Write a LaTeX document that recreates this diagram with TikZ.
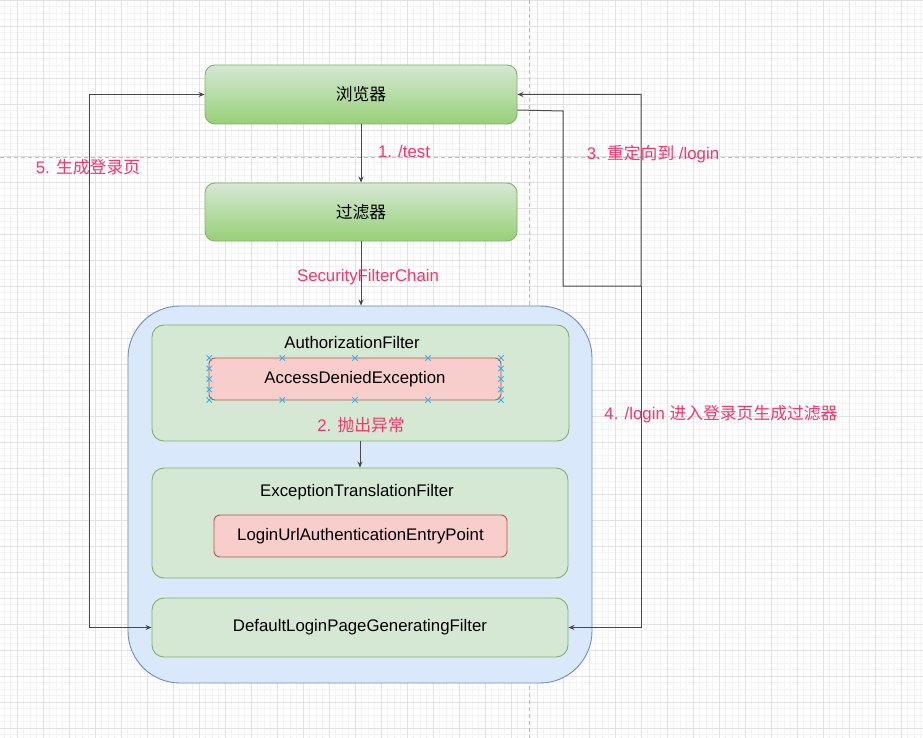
\documentclass[tikz,border=0pt]{standalone}
\usepackage{fontspec}
\setmainfont{Liberation Sans}
\newfontfamily\cjk{Noto Sans CJK SC}
\usetikzlibrary{arrows.meta}
\definecolor{gfill}{HTML}{D5E8D4}
\definecolor{gdark}{HTML}{97D077}
\definecolor{gstroke}{HTML}{82B366}
\definecolor{bfill}{HTML}{DAE8FC}
\definecolor{bstroke}{HTML}{6C8EBF}
\definecolor{rfill}{HTML}{F8CECC}
\definecolor{rstroke}{HTML}{B85450}
\definecolor{pinktxt}{HTML}{FF3366}
\definecolor{edgecol}{HTML}{4A4A4A}
\definecolor{handle}{HTML}{29B6F2}
\newcommand{\lowr}[1]{\raisebox{-1.3pt}{#1}}
\begin{document}
\begin{tikzpicture}[x=1pt,y=-1pt,
  font=\fontsize{16.8}{20}\selectfont,
  gbox/.style={draw=gstroke, fill=gfill, rounded corners=12pt, line width=0.9pt, inner sep=0pt},
  gradbox/.style={draw=gstroke, top color=gfill, bottom color=gdark, rounded corners=10pt, line width=0.9pt, inner sep=0pt},
  rbox/.style={draw=rstroke, fill=rfill, rounded corners=6pt, line width=0.9pt, inner sep=0pt},
  plain/.style={inner sep=0pt, text=black, yshift=-1.3pt},
  pinklbl/.style={inner sep=0pt, text=pinktxt, yshift=-1.3pt},
  conn/.style={draw=edgecol, line width=1pt, -{Stealth[length=6pt,width=5pt]}},
  minorgrid/.style={draw={rgb,255:red,244;green,244;blue,244}, line width=0.8pt},
  majorgrid/.style={draw={rgb,255:red,226;green,226;blue,226}, line width=0.9pt},
  pagebreak/.style={draw={rgb,255:red,190;green,190;blue,190}, line width=0.8pt, dash pattern=on 4pt off 3pt},
  handlemark/.style={draw=handle, line width=0.9pt}
]
\useasboundingbox (0,0) rectangle (923,738);
\fill[white] (0,0) rectangle (923,738);
% grid
\foreach \i in {0,...,141} \draw[minorgrid] ({4.3+6.5*\i},0) -- ({4.3+6.5*\i},738);
\foreach \i in {0,...,113} \draw[minorgrid] (0,{0.3+6.5*\i}) -- (923,{0.3+6.5*\i});
\foreach \i in {0,...,34} \draw[majorgrid] ({17.3+26*\i},0) -- ({17.3+26*\i},738);
\foreach \i in {0,...,28} \draw[majorgrid] (0,{0.3+26*\i}) -- (923,{0.3+26*\i});
% page break lines
\draw[pagebreak] (529,0) -- (529,738);
\draw[pagebreak] (0,157) -- (923,157);

% top boxes
\node[gradbox, minimum width=312pt, minimum height=59pt] (browser) at (361,94.5) {\lowr{\cjk 浏览器}};
\node[gradbox, minimum width=312pt, minimum height=58pt] (filter) at (361,212) {\lowr{\cjk 过滤器}};

% container
\node[draw=bstroke, fill=bfill, rounded corners=52pt, line width=0.9pt, minimum width=464pt, minimum height=377pt, inner sep=0pt] (chain) at (360,494.5) {};

% authorization filter
\node[gbox, minimum width=417pt, minimum height=116pt] (auth) at (360.5,383) {};
\node[plain] (authlbl) at (352,341) {AuthorizationFilter};
\node[rbox, minimum width=292pt, minimum height=42pt] (ade) at (355,379) {\lowr{AccessDeniedException}};
\node[pinklbl] (throw) at (361,424) {2. {\cjk 抛出异常}};

% exception translation filter
\node[gbox, minimum width=416pt, minimum height=110pt] (etf) at (360,523) {};
\node[plain] (etflbl) at (357,491) {ExceptionTranslationFilter};
\node[rbox, minimum width=293pt, minimum height=42pt] (luaep) at (360.5,536) {\lowr{LoginUrlAuthenticationEntryPoint}};

% default login page
\node[gbox, minimum width=416pt, minimum height=59pt] (dlpgf) at (360,627.5) {\lowr{DefaultLoginPageGeneratingFilter}};

% selection handles on AccessDeniedException
\foreach \hx in {209.3,282.3,355,428,501}{
  \foreach \hy in {358,400}{
    \draw[handlemark] (\hx-2.7,\hy-2.7) -- (\hx+2.7,\hy+2.7) (\hx-2.7,\hy+2.7) -- (\hx+2.7,\hy-2.7);
  }
}
\foreach \hx in {209.3,501}{
  \foreach \hy in {368.5,379,389.5}{
    \draw[handlemark] (\hx-2.7,\hy-2.7) -- (\hx+2.7,\hy+2.7) (\hx-2.7,\hy+2.7) -- (\hx+2.7,\hy-2.7);
  }
}

% vertical connectors
\draw[conn] (browser.south) -- (filter.north);
\draw[conn] (filter.south) -- (filter.south |- chain.north);
\draw[conn] (auth.south -| etf.north) -- (etf.north);

% left loop
\coordinate (l1) at (89,94.5);
\coordinate (l2) at (89,627.5);
\draw[draw=edgecol, line width=1pt, {Stealth[length=6pt,width=5pt]}-{Stealth[length=6pt,width=5pt]}] (browser.west) -- (l1) -- (l2) -- (dlpgf.west);

% right loop
\coordinate (r1) at (563,111);
\coordinate (r2) at (563,286);
\coordinate (r3) at (641,286);
\coordinate (r4) at (641,94.5);
\draw[conn] ([yshift=-15.5pt]browser.east) -- (r1) -- (r2) -- (r3) -- (r4) -- (browser.east);
\draw[conn] (r3) |- (dlpgf.east);

% labels
\node[pinklbl] (t1) at (404,150) {1. /test};
\node[pinklbl] (t2) at (368,276) {SecurityFilterChain};
\node[pinklbl] (t3) at (653,153) {3. {\cjk 重定向到} /login};
\node[pinklbl] (t4) at (721,413) {4. /login {\cjk 进入登录页生成过滤器}};
\node[pinklbl] (t5) at (88,166) {5. {\cjk 生成登录页}};
\end{tikzpicture}
\end{document}
